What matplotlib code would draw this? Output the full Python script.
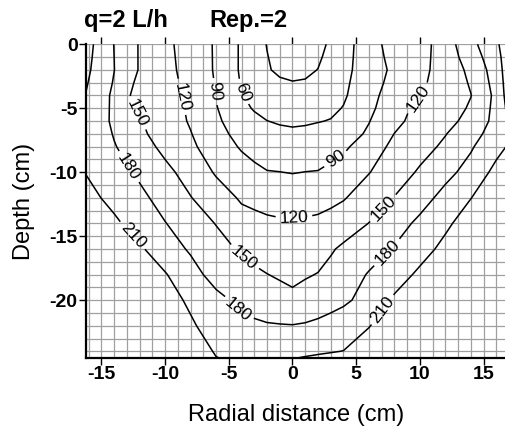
import matplotlib
matplotlib.use("Agg")
import matplotlib.pyplot as plt
from matplotlib.ticker import MultipleLocator

plt.rcParams['font.family'] = ['Liberation Sans', 'DejaVu Sans']
plt.rcParams['axes.unicode_minus'] = False

title_left = "q=2 L/h"
title_right = "Rep.=2"
x_label = "Radial distance (cm)"
y_label = "Depth (cm)"

# grid of the mapped quantity
radial_cm = [-16.2, -14, -12, -10, -8, -6, -4, -3, -2, -1, 0, 1, 2, 3, 4,
             6, 8, 10, 12, 14, 16, 17]
depth_cm = [0, -1, -2, -3, -4, -5, -6, -7, -8, -10, -12, -14, -16, -18,
            -20, -22, -24, -24.5]
levels = [30, 60, 90, 120, 150, 180, 210]

row_0 = [221, 179.5, 148, 127, 107, 87, 56, 43, 29, 18, 12, 14, 21, 35, 48, 77, 103, 107, 136, 171, 206, 226]
row_1 = [218.5, 180.1, 148, 128, 108, 87, 56, 44, 31, 22, 17.5, 19.5, 26, 38, 50, 76, 99.5, 109, 135, 163.5, 200.5, 227]
row_2 = [216, 180.5, 148, 129, 109, 87, 56, 45, 32, 26, 23, 25, 30.5, 42, 52, 75, 96, 111, 134, 156, 195, 228]
row_3 = [212.5, 178, 142, 129, 112.6, 88.2, 58, 47, 38.5, 33, 31, 32, 37, 46, 55, 75, 101, 115.25, 132, 152.75, 191.25, 226.5]
row_4 = [209, 174.5, 136, 129, 115, 89, 62, 49, 45, 41, 39, 40, 44, 50, 57, 77, 109.5, 119.5, 130, 149.5, 187.5, 225]
row_5 = [208.5, 174.25, 144, 132, 116.2, 91.5, 69.5, 57, 52, 48.5, 47.5, 48.5, 51.5, 55.5, 61, 83, 110, 126.5, 136.5, 153.25, 188.75, 218.5]
row_6 = [208, 174, 152, 135, 117.4, 94, 77, 69, 60.3, 57.5, 56, 57, 59, 61, 69, 89, 111, 133.5, 143, 157, 190, 212]
row_7 = [208, 178, 155, 139, 121.2, 100, 80, 75, 69, 65.75, 64.5, 65.5, 67.5, 70.5, 77, 94, 120.5, 136.75, 149, 167, 195.5, 212.5]
row_8 = [208, 182, 162, 143, 125, 106, 87, 81, 77, 74, 73, 74, 76, 80, 85, 105, 127, 140, 155, 177, 201, 213]
row_10 = [209, 191, 175, 157, 139.5, 117, 103, 96, 91, 90.3, 89, 90.3, 91, 96, 102, 119, 136, 153.5, 172, 190, 218.5, 229]
row_12 = [219, 202, 187, 169, 151, 134, 116.5, 113, 110, 108, 107, 107.5, 109, 113, 118, 134, 151, 169, 189, 209.5, 228, 236]
row_14 = [230, 215, 198, 181, 165, 149, 131, 128, 125, 123.5, 123, 124, 126, 130, 135, 150.5, 168, 186, 205, 223, 240, 245]
row_16 = [245, 232, 214, 194, 176.5, 161, 146, 141, 137, 135, 134, 136, 139, 147, 155, 168, 182, 200, 217, 234, 250, 255]
row_18 = [255, 245, 233, 212, 191, 169, 160, 155, 150.5, 147, 145, 147.5, 151, 158, 166, 182, 198, 215, 232, 248, 260, 265]
row_20 = [265, 255, 240, 222, 205, 188, 173, 170, 166, 160, 155, 161, 167, 172, 176, 188, 214, 235, 250, 260, 270, 275]
row_22 = [275, 265, 250, 230, 214, 197, 186, 184, 182, 181.5, 181, 182.5, 185, 188, 192, 209, 225, 240, 255, 265, 275, 280]
row_24 = [280, 270, 255, 240, 223, 208, 203, 202, 201, 202, 204, 205.5, 207, 208.5, 210.5, 222, 235, 248, 260, 270, 280, 285]
row_245 = [282, 272, 258, 243, 225, 210.5, 205, 204, 204, 206, 209, 211, 213, 215.5, 218, 228, 238, 250, 262, 272, 282, 287]

values = [row_0, row_1, row_2, row_3, row_4, row_5, row_6, row_7, row_8,
          row_10, row_12, row_14, row_16, row_18, row_20, row_22, row_24,
          row_245]

x_ticks = [-15, -10, -5, 0, 5, 10, 15]
y_ticks = [0, -5, -10, -15, -20]

W, H = 506, 434
fig = plt.figure(figsize=(W / 100, H / 100), dpi=100)
ax = fig.add_axes([86 / W, (H - 357.7) / H, (W - 86) / W, (357.7 - 44.3) / H])

ax.set_xlim(-16.2, 16.75)
ax.set_ylim(-24.5, 0)

ax.xaxis.set_minor_locator(MultipleLocator(1))
ax.yaxis.set_minor_locator(MultipleLocator(1))
ax.set_xticks(x_ticks)
ax.set_yticks(y_ticks)
ax.set_xticklabels([str(t) for t in x_ticks])
ax.set_yticklabels([str(t) for t in y_ticks])
ax.grid(which='both', color='#a0a0a0', linewidth=0.9)
ax.set_axisbelow(True)

cs = ax.contour(radial_cm, depth_cm, values, levels=levels, colors='black',
                linewidths=1.1)

label_spots = [(-12.2, -5.4), (-8.65, -4.1), (-6.1, -3.7), (-4.0, -3.75),
               (10.0, -4.35), (-12.8, -9.55), (3.4, -9.0), (0.1, -13.45),
               (7.2, -12.9), (-12.6, -15.0), (-3.75, -16.6), (7.2, -16.05),
               (-4.1, -20.6), (7.0, -20.7)]
ax.clabel(cs, inline=True, fmt='%d', fontsize=12.5, manual=label_spots,
          inline_spacing=4)

for side in ['top', 'right']:
    ax.spines[side].set_visible(False)
for side in ['left', 'bottom']:
    ax.spines[side].set_linewidth(1.6)
    ax.spines[side].set_color('black')

ax.tick_params(which='major', direction='out', length=5, width=1.0,
               top=True, labeltop=False, labelsize=14, pad=1)
ax.tick_params(which='minor', length=0)
for lab in ax.get_xticklabels() + ax.get_yticklabels():
    lab.set_fontweight('bold')

fig.text(84 / W, 1 - 20 / H, title_left, ha='left', va='center',
         fontsize=17, fontweight='bold')
fig.text(209 / W, 1 - 20 / H, title_right, ha='left', va='center',
         fontsize=17, fontweight='bold')
fig.text(296 / W, 1 - 415 / H, x_label, ha='center', va='center', fontsize=17)
fig.text(24 / W, 1 - 201 / H, y_label, ha='center', va='center',
         rotation=90, fontsize=17)

fig.savefig('out.png', dpi=100)
